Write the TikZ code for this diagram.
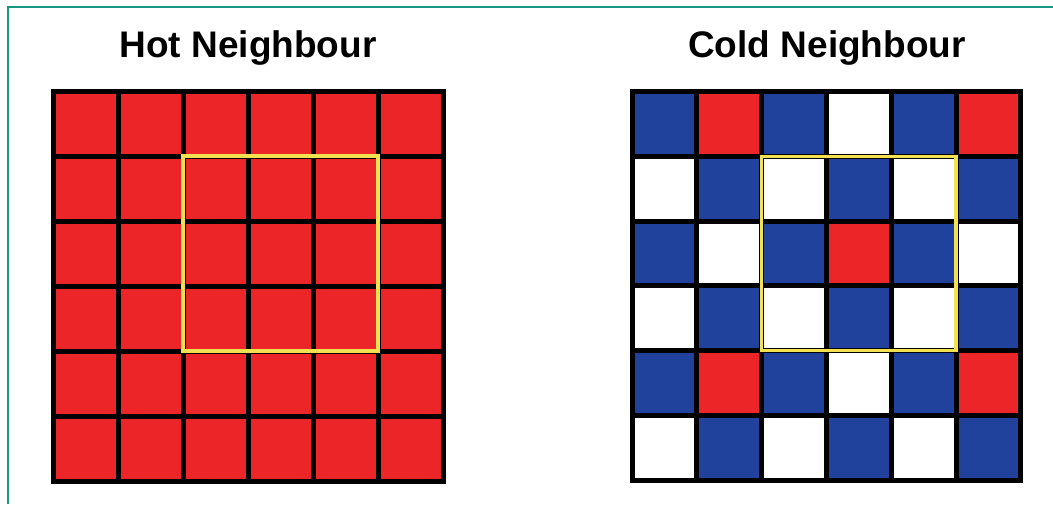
\documentclass[tikz,border=0pt]{standalone}
\usepackage{fontspec}
\setmainfont{Liberation Sans}
\definecolor{R}{RGB}{236,38,40}
\definecolor{B}{RGB}{33,66,156}
\definecolor{W}{RGB}{255,255,255}
\definecolor{cyel}{RGB}{242,226,82}
\definecolor{frameteal}{RGB}{22,150,132}
\tikzset{
  title/.style={anchor=base, font=\fontsize{37}{40}\selectfont\bfseries, inner sep=0pt},
  gridline/.style={line width=5pt, black, line cap=rect},
  focus/.style={line width=3.5pt, cyel},
  frameline/.style={line width=1.6pt, frameteal}
}
\begin{document}
\begin{tikzpicture}[x=1pt,y=-1pt]
\useasboundingbox (0,0) rectangle (1053,504);
\fill[white] (0,0) rectangle (1053,504);
% outer frame (left and top edges visible)
\draw[frameline] (8,504) -- (8,7) -- (1053,7);
% titles
\node[title] (hot) at (248,57) {Hot Neighbour};
\node[title] (cold) at (827,57) {Cold Neighbour};
% left grid (all red)
\def\lx{53}\def\ly{91}\def\lp{65}
\fill[R] (\lx,\ly) rectangle ++(6*\lp,6*\lp);
\foreach \i in {0,...,6}{
  \draw[gridline] (\lx+\i*\lp,\ly) -- (\lx+\i*\lp,\ly+6*\lp);
  \draw[gridline] (\lx,\ly+\i*\lp) -- (\lx+6*\lp,\ly+\i*\lp);
}
\draw[focus] (\lx+2*\lp,\ly+1*\lp) rectangle (\lx+5*\lp,\ly+4*\lp);
% right grid
\def\rx{632}\def\ry{91.5}\def\rp{64.8}
\foreach \row [count=\r from 0] in {{B,R,B,W,B,R},{W,B,W,B,W,B},{B,W,B,R,B,W},{W,B,W,B,W,B},{B,R,B,W,B,R},{W,B,W,B,W,B}}{
  \foreach \c [count=\k from 0] in \row {
    \fill[\c] (\rx+\k*\rp,\ry+\r*\rp) rectangle ++(\rp,\rp);
  }
}
\foreach \i in {0,...,6}{
  \draw[gridline] (\rx+\i*\rp,\ry) -- (\rx+\i*\rp,\ry+6*\rp);
  \draw[gridline] (\rx,\ry+\i*\rp) -- (\rx+6*\rp,\ry+\i*\rp);
}
\draw[focus] (\rx+2*\rp,\ry+1*\rp) rectangle (\rx+5*\rp,\ry+4*\rp);
\end{tikzpicture}
\end{document}
